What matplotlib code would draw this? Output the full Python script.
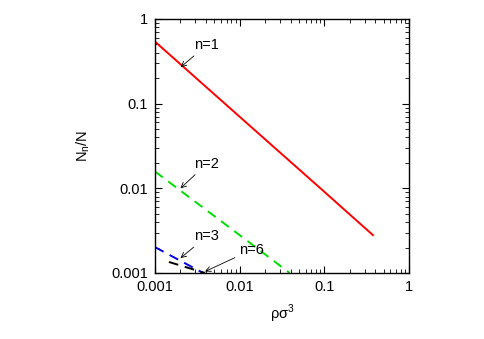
import matplotlib
matplotlib.use('Agg')
import matplotlib.pyplot as plt
from matplotlib.ticker import FixedLocator, FixedFormatter, LogLocator, NullFormatter

plt.rcParams['font.family'] = ['Liberation Sans', 'DejaVu Sans']

# dados
x1 = [0.001, 0.01, 0.1, 0.375]
y1 = [0.54, 0.07, 0.0091, 0.0028]
x2 = [0.001, 0.01, 0.039]
y2 = [0.0158, 0.0028, 0.001]
x3 = [0.001, 0.0037]
y3 = [0.00202, 0.001]
x6 = [0.00146, 0.0039]
y6 = [0.00135, 0.001]

ticks = [0.001, 0.01, 0.1, 1]
tick_labels = ['0.001', '0.01', '0.1', '1']

# rótulos: texto, ponto da seta, posição do texto
rotulos = [
    ('n=1', (0.00201, 0.27), (0.0029, 0.49)),
    ('n=2', (0.002, 0.01), (0.0029, 0.0194)),
    ('n=3', (0.002, 0.0015), (0.0029, 0.0027)),
    ('n=6', (0.0039, 0.00104), (0.0098, 0.00187)),
]

fig = plt.figure(figsize=(4.85, 3.39), dpi=100)
ax = fig.add_axes([0.3196, 0.1947, 0.5237, 0.7493])

ax.plot(x1, y1, color='#ff0000', lw=1.4)
ax.plot(x2, y2, color='#00dd00', lw=1.4, dashes=(5, 3.5))
ax.plot(x3, y3, color='#0000ee', lw=1.4, dashes=(5, 3.5))
ax.plot(x6, y6, color='black', lw=1.4, dashes=(5, 3.5))

ax.set_xscale('log')
ax.set_yscale('log')
ax.set_xlim(0.001, 1)
ax.set_ylim(0.001, 1)

for eixo in (ax.xaxis, ax.yaxis):
    eixo.set_major_locator(FixedLocator(ticks))
    eixo.set_major_formatter(FixedFormatter(tick_labels))
    eixo.set_minor_locator(LogLocator(base=10, subs=range(2, 10)))
    eixo.set_minor_formatter(NullFormatter())

ax.tick_params(which='both', direction='in', top=True, right=True, labelsize=10.5)
ax.tick_params(which='major', length=5, width=0.8, pad=5)
ax.tick_params(which='minor', length=3, width=0.6)
for s in ax.spines.values():
    s.set_linewidth(1.0)

for txt, ponta, pos in rotulos:
    ax.annotate(txt, xy=ponta, xytext=pos, fontsize=10.5, ha='left', va='center',
                arrowprops=dict(arrowstyle='->', lw=0.6, color='black',
                                mutation_scale=9, shrinkA=1, shrinkB=0))

ax.set_xlabel('ρσ$^\\mathregular{3}$', fontsize=10.5, labelpad=6)
ax.set_ylabel('N$_\\mathregular{n}$/N', fontsize=10.5, labelpad=14)

fig.savefig('out.png', dpi=100)
